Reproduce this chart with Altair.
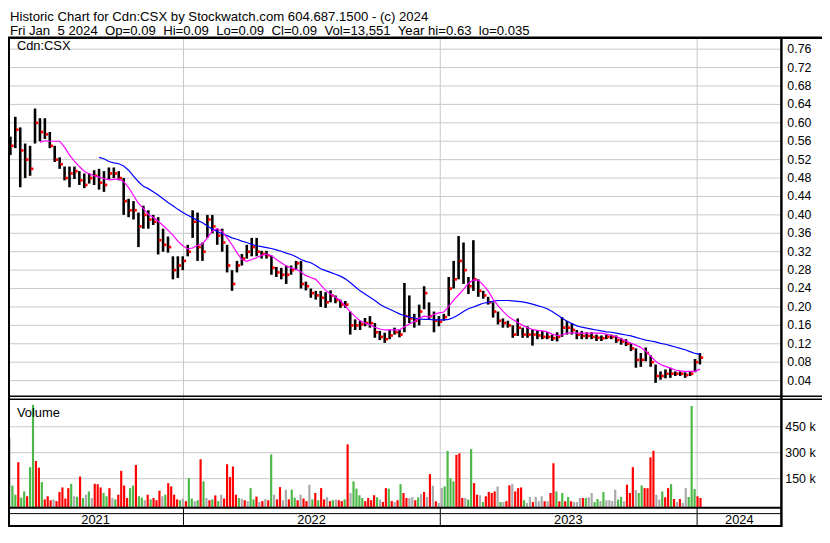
import altair as alt
import numpy as np
import pandas as pd

# ---------------- data ----------------
WEEK_START = "2021-04-30"   # weekly bars (Fridays) up to 2024-01-05

HIGH = [0.57, 0.613, 0.59, 0.555, 0.55, 0.631, 0.61, 0.61, 0.58, 0.55,
        0.525, 0.505, 0.505, 0.505, 0.495, 0.49, 0.49, 0.497, 0.50, 0.495,
        0.503, 0.503, 0.495, 0.48, 0.435, 0.43, 0.405, 0.42, 0.41, 0.40,
        0.395, 0.37, 0.353, 0.31, 0.31, 0.31, 0.335, 0.41, 0.405, 0.34,
        0.40, 0.40, 0.37, 0.37, 0.335, 0.28, 0.30, 0.315, 0.335, 0.35,
        0.35, 0.322, 0.322, 0.312, 0.287, 0.285, 0.29, 0.29, 0.30, 0.30,
        0.255, 0.24, 0.235, 0.235, 0.232, 0.236, 0.225, 0.216, 0.213, 0.19,
        0.173, 0.17, 0.176, 0.18, 0.165, 0.148, 0.144, 0.15, 0.155, 0.15,
        0.252, 0.225, 0.185, 0.205, 0.245, 0.21, 0.19, 0.18, 0.185, 0.265,
        0.30, 0.354, 0.34, 0.265, 0.345, 0.26, 0.235, 0.222, 0.21, 0.19,
        0.175, 0.17, 0.16, 0.175, 0.155, 0.158, 0.152, 0.15, 0.148, 0.145,
        0.14, 0.145, 0.178, 0.17, 0.165, 0.15, 0.148, 0.145, 0.145, 0.14,
        0.138, 0.14, 0.14, 0.138, 0.133, 0.13, 0.122, 0.11, 0.10, 0.112,
        0.095, 0.075, 0.06, 0.064, 0.068, 0.06, 0.06, 0.058, 0.06, 0.087,
        0.10]

LOW = [0.53, 0.545, 0.46, 0.48, 0.485, 0.555, 0.56, 0.565, 0.545, 0.515,
       0.50, 0.475, 0.46, 0.478, 0.465, 0.458, 0.468, 0.465, 0.455, 0.45,
       0.478, 0.48, 0.475, 0.40, 0.395, 0.39, 0.33, 0.37, 0.37, 0.378,
       0.314, 0.32, 0.318, 0.26, 0.263, 0.28, 0.31, 0.35, 0.30, 0.30,
       0.35, 0.36, 0.335, 0.32, 0.275, 0.235, 0.275, 0.29, 0.305, 0.31,
       0.31, 0.305, 0.305, 0.27, 0.265, 0.26, 0.25, 0.27, 0.28, 0.24,
       0.236, 0.22, 0.216, 0.20, 0.198, 0.21, 0.208, 0.198, 0.198, 0.14,
       0.15, 0.15, 0.158, 0.155, 0.133, 0.128, 0.122, 0.13, 0.14, 0.134,
       0.145, 0.165, 0.155, 0.16, 0.195, 0.172, 0.145, 0.158, 0.17, 0.18,
       0.24, 0.26, 0.25, 0.228, 0.235, 0.222, 0.218, 0.205, 0.177, 0.162,
       0.155, 0.155, 0.133, 0.137, 0.133, 0.133, 0.116, 0.13, 0.13, 0.13,
       0.126, 0.125, 0.135, 0.14, 0.14, 0.13, 0.13, 0.13, 0.13, 0.126,
       0.126, 0.13, 0.13, 0.122, 0.118, 0.115, 0.104, 0.068, 0.07, 0.082,
       0.07, 0.035, 0.042, 0.045, 0.046, 0.05, 0.05, 0.046, 0.05, 0.058,
       0.075]

CLOSE = [0.55, 0.585, 0.54, 0.52, 0.50, 0.60, 0.58, 0.575, 0.55, 0.52,
         0.51, 0.48, 0.49, 0.495, 0.475, 0.465, 0.48, 0.485, 0.47, 0.465,
         0.49, 0.49, 0.48, 0.43, 0.41, 0.41, 0.375, 0.40, 0.39, 0.385,
         0.345, 0.335, 0.33, 0.28, 0.29, 0.30, 0.32, 0.385, 0.33, 0.32,
         0.39, 0.375, 0.355, 0.34, 0.29, 0.25, 0.29, 0.305, 0.32, 0.33,
         0.32, 0.315, 0.312, 0.285, 0.275, 0.27, 0.27, 0.28, 0.295, 0.25,
         0.245, 0.23, 0.225, 0.22, 0.21, 0.225, 0.215, 0.205, 0.205, 0.16,
         0.16, 0.162, 0.165, 0.165, 0.145, 0.135, 0.13, 0.138, 0.145, 0.14,
         0.18, 0.175, 0.17, 0.19, 0.23, 0.18, 0.17, 0.168, 0.178, 0.24,
         0.26, 0.30, 0.28, 0.245, 0.26, 0.235, 0.225, 0.21, 0.19, 0.17,
         0.165, 0.16, 0.14, 0.155, 0.14, 0.14, 0.14, 0.138, 0.135, 0.135,
         0.132, 0.135, 0.155, 0.155, 0.15, 0.14, 0.137, 0.137, 0.135, 0.133,
         0.132, 0.135, 0.135, 0.128, 0.125, 0.12, 0.11, 0.085, 0.085, 0.10,
         0.08, 0.05, 0.05, 0.055, 0.055, 0.055, 0.055, 0.052, 0.055, 0.08,
         0.09]

MA_SHORT_FIRST_WEEK = 6   # magenta average starts at week 6
MA_SHORT = [0.558, 0.561, 0.56, 0.56, 0.56, 0.547, 0.53, 0.517, 0.505, 0.495,
            0.489, 0.485, 0.482, 0.479, 0.476, 0.477, 0.478, 0.472, 0.459, 0.442,
            0.425, 0.414, 0.401, 0.395, 0.386, 0.377, 0.367, 0.356, 0.343, 0.333,
            0.326, 0.328, 0.334, 0.337, 0.35, 0.365, 0.37, 0.364, 0.35, 0.335,
            0.318, 0.303, 0.299, 0.303, 0.307, 0.312, 0.315, 0.311, 0.303, 0.296,
            0.289, 0.285, 0.282, 0.276, 0.268, 0.264, 0.26, 0.248, 0.236, 0.228,
            0.221, 0.214, 0.202, 0.19, 0.179, 0.17, 0.165, 0.161, 0.156, 0.152,
            0.15, 0.15, 0.15, 0.15, 0.157, 0.163, 0.168, 0.176, 0.18, 0.178,
            0.184, 0.187, 0.189, 0.201, 0.215, 0.226, 0.238, 0.251, 0.259, 0.258,
            0.248, 0.235, 0.217, 0.203, 0.191, 0.18, 0.173, 0.166, 0.16, 0.155,
            0.151, 0.149, 0.148, 0.146, 0.141, 0.138, 0.139, 0.143, 0.144, 0.143,
            0.143, 0.143, 0.143, 0.143, 0.143, 0.141, 0.138, 0.136, 0.131, 0.126,
            0.121, 0.117, 0.112, 0.104, 0.093, 0.082, 0.075, 0.071, 0.067, 0.063,
            0.061, 0.06, 0.06, 0.06, 0.065]

MA_LONG_FIRST_WEEK = 18   # blue average starts at week 18
MA_LONG = [0.525, 0.522,
           0.516, 0.513, 0.511, 0.506, 0.497, 0.484, 0.472, 0.462, 0.457, 0.45,
           0.443, 0.435, 0.427, 0.42, 0.412, 0.405, 0.399, 0.394, 0.388, 0.383,
           0.376, 0.369, 0.364, 0.359, 0.355, 0.35, 0.347, 0.343, 0.34, 0.336,
           0.333, 0.331, 0.329, 0.327, 0.324, 0.321, 0.317, 0.314, 0.309, 0.303,
           0.299, 0.296, 0.29, 0.283, 0.279, 0.275, 0.271, 0.267, 0.261, 0.253,
           0.244, 0.235, 0.228, 0.221, 0.214, 0.206, 0.2, 0.195, 0.19, 0.185,
           0.181, 0.178, 0.176, 0.174, 0.173, 0.173, 0.172, 0.172, 0.172, 0.173,
           0.177, 0.183, 0.19, 0.196, 0.2, 0.204, 0.208, 0.21, 0.212, 0.214,
           0.214, 0.214, 0.213, 0.212, 0.211, 0.209, 0.206, 0.203, 0.2, 0.196,
           0.19, 0.183, 0.176, 0.169, 0.164, 0.159, 0.156, 0.154, 0.152, 0.15,
           0.148, 0.146, 0.145, 0.143, 0.141, 0.139, 0.137, 0.134, 0.131, 0.128,
           0.126, 0.124, 0.121, 0.119, 0.116, 0.113, 0.11, 0.107, 0.103, 0.099,
           0.097]

# volume samples, one every ~4.2 days, in thousands of shares
VOL_START = "2021-04-28 17:00"
VOL_STEP_DAYS = 4.179
VOLUME_K = [386, 110, 57, 245, 40, 76, 48, 216, 577, 252,
            214, 130, 30, 48, 25, 29, 20, 73, 99, 35,
            95, 120, 48, 45, 162, 38, 57, 76, 38, 120,
            118, 99, 67, 48, 95, 38, 30, 57, 195, 110,
            38, 95, 110, 229, 48, 40, 25, 57, 30, 38,
            25, 80, 48, 57, 124, 105, 57, 30, 25, 35,
            20, 153, 35, 20, 25, 262, 134, 38, 25, 30,
            53, 20, 57, 35, 233, 159, 220, 57, 38, 34,
            25, 20, 95, 30, 46, 15, 20, 32, 25, 290,
            57, 30, 101, 25, 86, 30, 86, 40, 25, 57,
            35, 20, 115, 30, 67, 25, 95, 30, 42, 20,
            25, 29, 25, 20, 30, 348, 67, 134, 92, 54,
            38, 20, 38, 25, 54, 42, 29, 15, 95, 92,
            20, 15, 25, 118, 67, 38, 38, 44, 25, 42,
            61, 73, 44, 176, 109, 19, 10, 95, 105, 310,
            153, 134, 287, 296, 38, 38, 29, 321, 124, 57,
            54, 15, 48, 73, 67, 76, 105, 15, 15, 20,
            111, 118, 76, 95, 99, 25, 10, 44, 15, 44,
            19, 48, 19, 20, 67, 239, 76, 19, 67, 19,
            44, 19, 15, 15, 38, 38, 38, 42, 67, 15,
            32, 20, 73, 25, 25, 20, 86, 29, 44, 19,
            115, 67, 216, 84, 67, 111, 95, 95, 273, 311,
            57, 29, 76, 42, 95, 118, 32, 15, 32, 10,
            95, 44, 570, 90, 48, 38]
# G = up day (green), R = down day (red), N = unchanged (grey)
VOLUME_DIRECTION = list(
    "NGGRGGRGGR" "RGRRRNRRRR" "RGNGRGNGNR" "RRGGRNGRRR" "RGGRGGNRGR"
    "RRNGRRRRGN" "RGGNGRGNRG" "RGNRRRRRGN" "RNGGRNRNRG" "NRRNNRGGRN"
    "RRNGRGRRNR" "GNRRGRNGGG" "GRRRRGNRRG" "RNRGRRNNRG" "NRNRNRNNGG"
    "GGRRRNGGRR" "NGRRRRNGNR" "RNRRRGNNRN" "NNRNRRGRGR" "GRNNNRGNNG"
    "GNGNNNNGGN" "RRRNGGRRRR" "NNGRRGRNRN" "NGGGRR")

PRICE_TICKS = [0.04, 0.08, 0.12, 0.16, 0.20, 0.24, 0.28, 0.32, 0.36, 0.40,
               0.44, 0.48, 0.52, 0.56, 0.60, 0.64, 0.68, 0.72, 0.76]
VOL_TICKS = [150000, 300000, 450000]
VOL_TICK_LABELS = ["150 k", "300 k", "450 k"]
YEAR_STARTS = ["2022-01-01", "2023-01-01", "2024-01-01"]
YEAR_LABELS = ["2021", "2022", "2023", "2024"]
YEAR_LABEL_DATES = ["2021-08-29", "2022-07-02", "2023-07-02", "2024-03-01"]

HEADER_1 = "Historic Chart for Cdn:CSX by Stockwatch.com 604.687.1500 - (c) 2024"
HEADER_2 = ("Fri Jan\u00a0 5 2024\u00a0 Op=0.09\u00a0 Hi=0.09\u00a0 Lo=0.09\u00a0 "
            "Cl=0.09\u00a0 Vol=13,551\u00a0 Year hi=0.63\u00a0 lo=0.035")

# ---------------- tables ----------------
weeks = pd.date_range(WEEK_START, periods=len(HIGH), freq="7D")
price_df = pd.DataFrame({"date": weeks, "high": HIGH, "low": LOW, "close": CLOSE})
ma_s_df = pd.DataFrame({"date": weeks[MA_SHORT_FIRST_WEEK:], "ma": MA_SHORT})
ma_l_df = pd.DataFrame({"date": weeks[MA_LONG_FIRST_WEEK:], "ma": MA_LONG})
vol_dates = pd.Timestamp(VOL_START) + pd.to_timedelta(
    np.arange(len(VOLUME_K)) * VOL_STEP_DAYS, unit="D")
vol_df = pd.DataFrame({"date": vol_dates,
                       "vol": [v * 1000 for v in VOLUME_K],
                       "dir": VOLUME_DIRECTION})
ptick_df = pd.DataFrame({"p": PRICE_TICKS, "t": [f"{v:.2f}" for v in PRICE_TICKS]})
vtick_df = pd.DataFrame({"v": VOL_TICKS, "t": VOL_TICK_LABELS})
year_df = pd.DataFrame({"d": pd.to_datetime(YEAR_STARTS)})
ylab_df = pd.DataFrame({"d": pd.to_datetime(YEAR_LABEL_DATES), "t": YEAR_LABELS})
one = pd.DataFrame({"k": [0]})

# ---------------- layout ----------------
FONT = "Liberation Sans"
W, H = 822, 522
PLOT_R = 781
TOP = 27.5
VOL_BOTTOM = 502

x_scale = alt.Scale(domain=[alt.DateTime(year=2021, month=4, date=26, hours=14, minutes=38),
                            alt.DateTime(year=2024, month=4, date=29, hours=19)],
                    range=[0, PLOT_R], nice=False)
price_scale = alt.Scale(domain=[0.04, 0.76], range=[373.7, 39], zero=False, nice=False)
vol_scale = alt.Scale(domain=[-15000, 450000], range=[501.5, 420.3], zero=False, nice=False)


def X(f):
    return alt.X(f"{f}:T", scale=x_scale, axis=None)


def PY(f):
    return alt.Y(f"{f}:Q", scale=price_scale, axis=None)


def VY(f):
    return alt.Y(f"{f}:Q", scale=vol_scale, axis=None)


layers = []
# grids
layers.append(alt.Chart(ptick_df).mark_rule(color="#c8c8c8", strokeWidth=1).encode(
    y=PY("p"), x=alt.value(0), x2=alt.value(PLOT_R)))
layers.append(alt.Chart(vtick_df).mark_rule(color="#c8c8c8", strokeWidth=1).encode(
    y=VY("v"), x=alt.value(0), x2=alt.value(PLOT_R)))
layers.append(alt.Chart(year_df).mark_rule(color="#c8c8c8", strokeWidth=1).encode(
    x=X("d"), y=alt.value(TOP), y2=alt.value(VOL_BOTTOM)))
layers.append(alt.Chart(year_df).mark_rule(color="black", strokeWidth=1).encode(
    x=X("d"), y=alt.value(VOL_BOTTOM), y2=alt.value(521)))

# volume
layers.append(alt.Chart(vol_df).mark_rule(strokeWidth=2.2).encode(
    x=X("date"), y=VY("vol"), y2=alt.datum(-15000),
    color=alt.Color("dir:N", scale=alt.Scale(domain=["G", "R", "N"],
                                             range=["#4cb848", "#ff0000", "#a9a9a9"]),
                    legend=None)))

# price
layers.append(alt.Chart(price_df).mark_rule(color="black", strokeWidth=2.6).encode(
    x=X("date"), y=PY("low"), y2=alt.Y2("high")))
layers.append(alt.Chart(price_df).mark_square(color="#ff0000", size=7, opacity=1, xOffset=2).encode(
    x=X("date"), y=PY("close")))
layers.append(alt.Chart(ma_l_df).mark_line(color="#0000ff", strokeWidth=1.2).encode(
    x=X("date"), y=PY("ma")))
layers.append(alt.Chart(ma_s_df).mark_line(color="#ff00ff", strokeWidth=1.2).encode(
    x=X("date"), y=PY("ma")))

# frame lines
def hline(y, x2, w):
    return alt.Chart(one).mark_rule(color="black", strokeWidth=w).encode(
        x=alt.value(0), x2=alt.value(x2), y=alt.value(y))


def vline(x, w):
    return alt.Chart(one).mark_rule(color="black", strokeWidth=w).encode(
        x=alt.value(x), y=alt.value(TOP), y2=alt.value(521.5))


layers += [hline(TOP, W, 2.5), hline(389.5, W, 1.5), hline(392.5, W, 1.5),
           hline(VOL_BOTTOM, PLOT_R, 2), hline(508, PLOT_R, 1), hline(520.5, PLOT_R, 2),
           vline(1, 2), vline(PLOT_R, 2.5)]

# texts
def label(txt, x, y, size=13):
    return alt.Chart(pd.DataFrame({"t": [txt]})).mark_text(
        align="left", baseline="alphabetic", font=FONT, fontSize=size, color="black").encode(
        x=alt.value(x), y=alt.value(y), text="t:N")


layers += [label(HEADER_1, 2, 10.5, 13.3), label(HEADER_2, 2, 24.5, 13.3),
           label("Cdn:CSX", 9, 40, 13), label("Volume", 9, 410, 13)]

layers.append(alt.Chart(ptick_df).mark_text(
    align="left", baseline="middle", font=FONT, fontSize=12.5, color="black").encode(
    y=PY("p"), x=alt.value(787), text="t:N"))
layers.append(alt.Chart(vtick_df).mark_text(
    align="left", baseline="middle", font=FONT, fontSize=12.5, color="black").encode(
    y=VY("v"), x=alt.value(785), text="t:N"))
layers.append(alt.Chart(ylab_df).mark_text(
    align="center", baseline="middle", font=FONT, fontSize=13, color="black").encode(
    x=X("d"), y=alt.value(514.5), text="t:N"))

chart = alt.layer(*layers).resolve_scale(y="independent").properties(
    width=W, height=H, padding=0, autosize="none", background="white"
).configure_view(stroke=None)

chart.save("out.html", embed_options={"renderer": "svg", "actions": False})
